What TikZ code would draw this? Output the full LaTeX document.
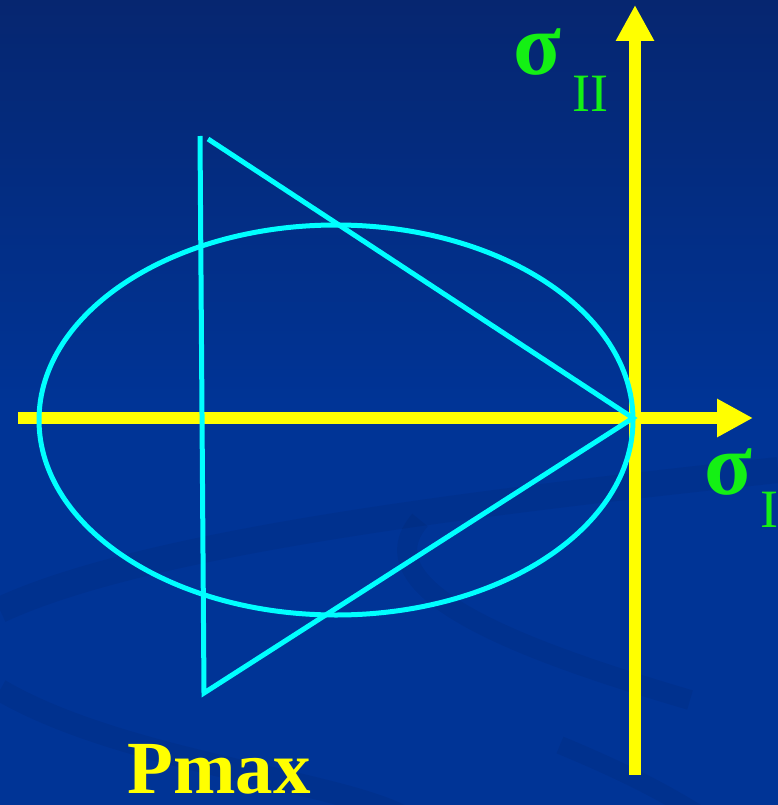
\documentclass[tikz,border=0pt]{standalone}
\usepackage{fontspec}
\setmainfont{Liberation Serif}
\usetikzlibrary{arrows.meta, positioning, calc}

\definecolor{bgtop}{RGB}{6,38,112}
\definecolor{bgbot}{RGB}{0,52,150}
\definecolor{axisyel}{RGB}{255,255,0}
\definecolor{curvecyan}{RGB}{0,255,255}
\definecolor{labgreen}{RGB}{20,240,20}

\begin{document}
\begin{tikzpicture}[
  x=1pt, y=-1pt,
  % yellow axes with a broad triangular head
  axis/.style={draw=axisyel, line width=12pt,
    -{Triangle[length=36pt,width=36pt]}},
  edge/.style={draw=curvecyan, line width=5pt},
  swirl/.style={draw=black, opacity=0.05, line width=#1},
  greek/.style={text=labgreen, inner sep=0pt, font=\fontsize{88}{88}\selectfont\bfseries},
  sub/.style={text=labgreen, inner sep=0pt, font=\fontsize{54}{54}\selectfont},
]

%% ── Background ─────────────────────────────────────────────────────────────
\useasboundingbox (0,0) rectangle (778,805);
\shade[top color=bgtop, bottom color=bgbot, middle color=bgbot]
  (0,0) rectangle (778,805);
\draw[swirl=26pt] (0,610) .. controls (150,540) and (500,500) .. (778,470);
\draw[swirl=22pt] (0,690) .. controls (120,760) and (330,780) .. (400,815);
\draw[swirl=20pt] (420,520) .. controls (360,590) and (520,650) .. (690,700);
\draw[swirl=18pt] (560,745) .. controls (620,770) and (660,790) .. (700,815);

%% ── Points ─────────────────────────────────────────────────────────────────
\coordinate (ax0)  at (18,418);
\coordinate (axE)  at (753,418);
\coordinate (ay0)  at (635,775);
\coordinate (ayN)  at (635,5);
\coordinate (apex) at (633,418);
\coordinate (tTop) at (200,136);
\coordinate (tTopR) at (208,139);
\coordinate (tBot) at (204,693);

%% ── Axes ───────────────────────────────────────────────────────────────────
\draw[axis] (ax0) -- (axE);
\draw[axis] (ay0) -- (ayN);

%% ── Ellipse and triangle ───────────────────────────────────────────────────
\draw[edge] (336,420) ellipse [x radius=297, y radius=195];
\draw[edge] (tTop) -- (tBot) -- (apex) -- (tTopR);

%% ── Labels ─────────────────────────────────────────────────────────────────
\node[greek, anchor=base west] (s2) at (513,75) {σ};
\node[sub, anchor=base west] (s2sub) at (572,112) {II};
\node[greek, anchor=base west] (s1) at (704,494) {σ};
\node[sub, anchor=base west] (s1sub) at (760,527) {I};
\node[text=axisyel, inner sep=0pt, anchor=base west,
      font=\fontsize{75}{75}\selectfont\bfseries] (pmax) at (127,793) {Pmax};

\end{tikzpicture}
\end{document}
